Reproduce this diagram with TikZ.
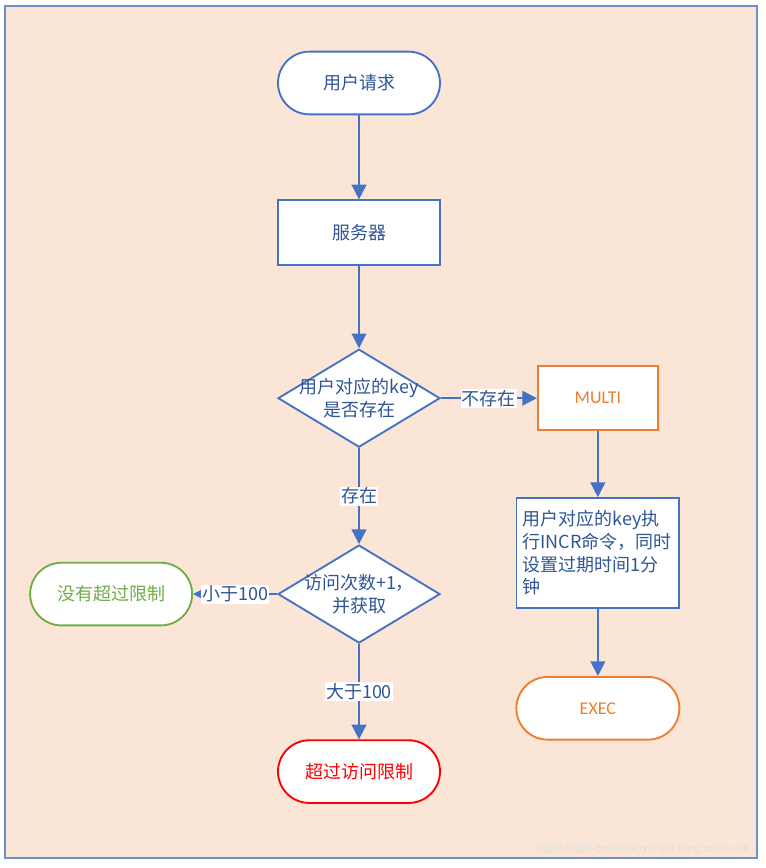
\documentclass[tikz,border=0pt]{standalone}
\usepackage{fontspec}
\setmainfont{Noto Sans CJK SC}
\newfontfamily\latinfont{Carlito}
\newfontfamily\markfont{Liberation Sans}
\usepackage{tikz}
\usetikzlibrary{arrows.meta,positioning,shapes.geometric}
\definecolor{linkblue}{HTML}{4472C4}
\definecolor{textblue}{HTML}{2F5597}
\definecolor{okgreen}{HTML}{70AD47}
\definecolor{warnorange}{HTML}{ED7D31}
\definecolor{stopred}{HTML}{FF0000}
\definecolor{pagefill}{HTML}{FBE5D6}
\definecolor{frameblue}{HTML}{6F8FC9}

\begin{document}
\begin{tikzpicture}[x=0.75pt, y=-0.75pt,
  font=\fontsize{13.5}{17}\selectfont,
  terminal/.style={draw=linkblue, fill=white, line width=1.4pt, rounded corners=23.5pt, minimum width=121.5pt, minimum height=47pt, text=textblue},
  process/.style={draw=linkblue, fill=white, line width=1.4pt, minimum width=121.5pt, minimum height=48.75pt, text=textblue},
  decision/.style={diamond, draw=linkblue, fill=white, line width=1.4pt, minimum width=121.5pt, minimum height=73.5pt, inner sep=0pt},
  dtext/.style={text=textblue, align=center},
  lbl/.style={fill=white, inner sep=1pt, text=textblue},
  arr/.style={-{Triangle[length=11pt, width=11pt]}, line width=1.4pt, linkblue}
]
  \useasboundingbox (0,0) rectangle (765,868);
  \draw[frameblue, fill=pagefill, line width=1.2pt] (5,6) rectangle (757,858);

  \node[terminal] (req) at (359,83) {用户请求};
  \node[process, below=63.1pt of req] (server) {服务器};
  \node[decision, below=61.5pt of server, label={[dtext, name=checktext]center:{用户对应的key\\是否存在}}] (check) {};
  \node[decision, below=72pt of check, label={[dtext, name=counttext]center:{访问次数+1，\\并获取}}] (count) {};
  \node[terminal, draw=stopred, text=stopred, below=71.5pt of count] (over) {超过访问限制};
  \node[terminal, draw=okgreen, text=okgreen, left=63pt of count] (ok) {没有超过限制};
  \node[process, draw=warnorange, text=warnorange, font=\latinfont\fontsize{13.5}{17}\selectfont, minimum width=90pt, minimum height=48pt, right=72pt of check] (multi) {MULTI};
  \node[process, below=49.5pt of multi, text width=113pt, inner sep=4.5pt, align=left, minimum height=82.5pt] (setexp) {用户对应的key执\\行INCR命令，同时\\设置过期时间1分\\钟};
  \node[terminal, draw=warnorange, text=warnorange, font=\latinfont\fontsize{13.5}{17}\selectfont, minimum width=122.25pt, below=50.25pt of setexp] (exec) {EXEC};
  \node[anchor=east, text=white!75!gray, font=\markfont\fontsize{9}{9}\selectfont] (mark) at (754,849) {https://dpb-bobokaoya-sm.blog.csdn.net};

  \draw[arr] (req) -- (server);
  \draw[arr] (server) -- (check);
  \draw[arr] (check) -- node[lbl] {存在} (count);
  \draw[arr] (check) -- node[lbl] {不存在} (multi);
  \draw[arr] (count) -- node[lbl] {小于100} (ok);
  \draw[arr] (count) -- node[lbl] {大于100} (over);
  \draw[arr] (multi) -- (setexp);
  \draw[arr] (setexp) -- (exec);
\end{tikzpicture}
\end{document}
